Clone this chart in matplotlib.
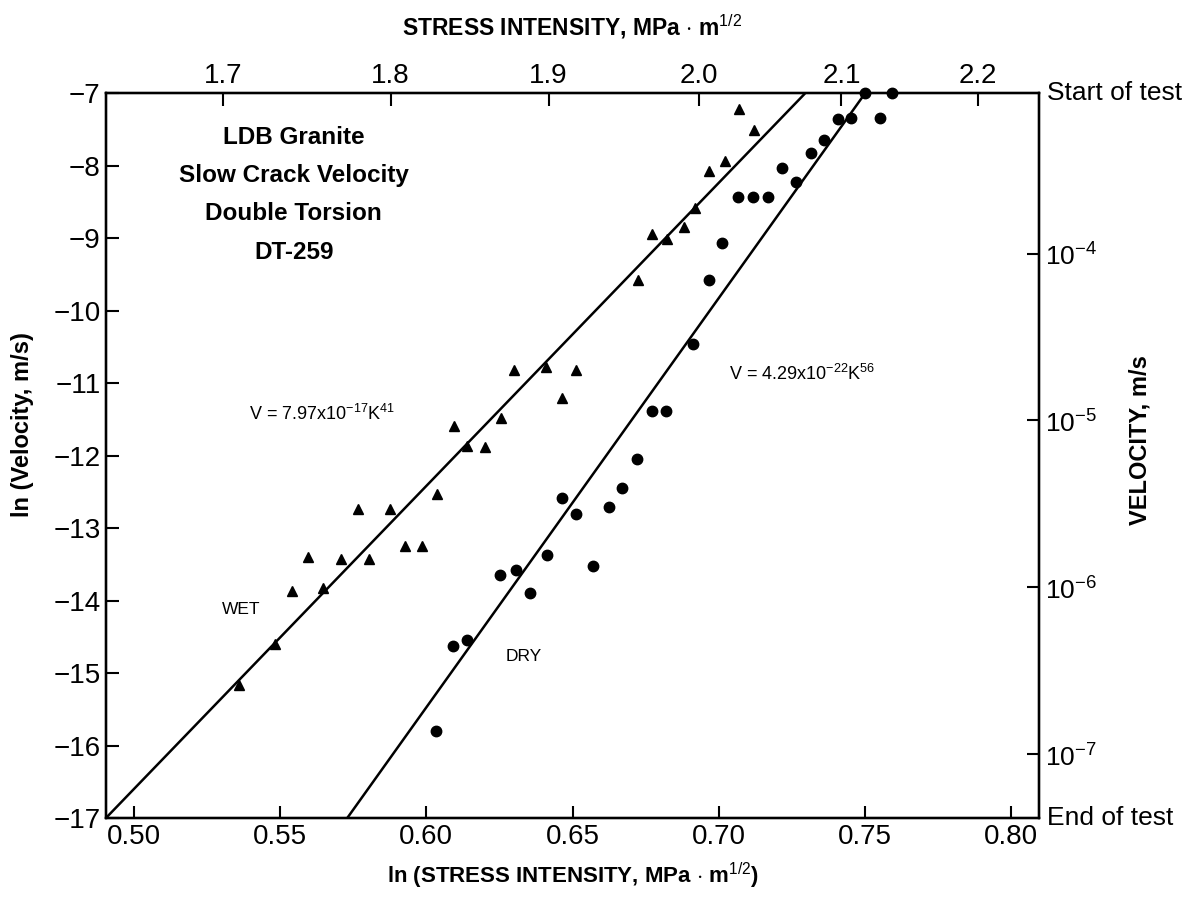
import numpy as np
import matplotlib
matplotlib.use("Agg")
import matplotlib.pyplot as plt

plt.rcParams['font.family'] = ['Liberation Sans', 'DejaVu Sans']
plt.rcParams['mathtext.fontset'] = 'custom'
plt.rcParams['mathtext.rm'] = 'Liberation Sans'
plt.rcParams['mathtext.bf'] = 'Liberation Sans:bold'

# ---- data (ln stress intensity, ln velocity) ----
wet_x = [0.5361, 0.5483, 0.5540, 0.5596, 0.5646, 0.5710, 0.5765, 0.5805, 0.5877,
         0.5927, 0.5985, 0.6037, 0.6094, 0.6141, 0.6202, 0.6255, 0.6301, 0.6409,
         0.6463, 0.6513, 0.6725, 0.6773, 0.6822, 0.6881, 0.6919, 0.6967, 0.7021,
         0.7069, 0.7121]
wet_y = [-15.16, -14.60, -13.87, -13.40, -13.82, -13.42, -12.74, -13.42, -12.74,
         -13.24, -13.24, -12.53, -11.59, -11.86, -11.88, -11.48, -10.82, -10.78,
         -11.21, -10.82, -9.58, -8.94, -9.01, -8.85, -8.58, -8.07, -7.93,
         -7.22, -7.51]

dry_x = [0.6035, 0.6090, 0.6141, 0.6253, 0.6306, 0.6355, 0.6414, 0.6463, 0.6513,
         0.6571, 0.6625, 0.6669, 0.6720, 0.6771, 0.6821, 0.6913, 0.6967, 0.7012,
         0.7067, 0.7118, 0.7169, 0.7217, 0.7263, 0.7314, 0.7359, 0.7407, 0.7451,
         0.7551, 0.7500, 0.7591]
dry_y = [-15.80, -14.63, -14.54, -13.64, -13.58, -13.90, -13.37, -12.58, -12.81,
         -13.52, -12.71, -12.44, -12.05, -11.38, -11.38, -10.46, -9.57, -9.06,
         -8.43, -8.43, -8.43, -8.03, -8.22, -7.82, -7.64, -7.36, -7.34,
         -7.34, -7.00, -7.00]

# fitted lines (end points)
wet_fit_x = [0.4905, 0.7295]
wet_fit_y = [-17.0, -7.0]
dry_fit_x = [0.5730, 0.7500]
dry_fit_y = [-17.0, -7.0]

x_ticks = [0.50, 0.55, 0.60, 0.65, 0.70, 0.75, 0.80]
y_ticks = [-7, -8, -9, -10, -11, -12, -13, -14, -15, -16, -17]
k_ticks = [1.7, 1.8, 1.9, 2.0, 2.1, 2.2]
v_ticks = [1e-4, 1e-5, 1e-6, 1e-7]
v_labels = [r'$10^{-4}$', r'$10^{-5}$', r'$10^{-6}$', r'$10^{-7}$']

fig = plt.figure(figsize=(12.04, 8.99), dpi=100)
ax = fig.add_axes([0.088, 0.0901, 0.775, 0.806])

ax.plot(wet_fit_x, wet_fit_y, color='black', lw=1.8, solid_capstyle='butt')
ax.plot(dry_fit_x, dry_fit_y, color='black', lw=1.8, solid_capstyle='butt')
ax.plot(wet_x, wet_y, linestyle='none', marker='^', ms=7.5, color='black', clip_on=False)
ax.plot(dry_x, dry_y, linestyle='none', marker='o', ms=7.5, color='black', clip_on=False)

ax.set_xlim(0.4905, 0.8095)
ax.set_ylim(-17, -7)
ax.set_xticks(x_ticks)
ax.set_xticklabels([f'{v:.2f}' for v in x_ticks])
ax.set_yticks(y_ticks)
ax.set_yticklabels([f'\u2212{abs(v)}' for v in y_ticks])
ax.tick_params(direction='in', length=9, width=1.5, labelsize=20, pad=4)

for s in ax.spines.values():
    s.set_linewidth(1.6)

# top axis: stress intensity
axt = ax.twiny()
axt.set_xlim(ax.get_xlim())
axt.set_xticks(np.log(k_ticks))
axt.set_xticklabels([f'{v:.1f}' for v in k_ticks])
axt.tick_params(direction='in', length=9, width=1.5, labelsize=20, pad=3)
axt.set_xlabel(r'STRESS INTENSITY, MPa $\cdot$ m$^{1/2}$', fontsize=16.5,
               fontweight='bold', labelpad=20)

# right axis: velocity
axr = ax.twinx()
axr.set_ylim(ax.get_ylim())
axr.set_yticks(np.log(v_ticks))
axr.set_yticklabels(v_labels)
axr.tick_params(direction='in', length=9, width=1.5, labelsize=19, pad=4)
for s in axr.spines.values():
    s.set_linewidth(1.6)
for s in axt.spines.values():
    s.set_linewidth(1.6)

fig.text(1140 / 1204, 1 - 440 / 899, 'VELOCITY, m/s', fontsize=17, fontweight='bold',
         rotation=90, ha='center', va='center')
fig.text(23 / 1204, 1 - 425 / 899, 'ln (Velocity, m/s)', fontsize=17, fontweight='bold',
         rotation=90, ha='center', va='center')

ax.text(1.008, 1.0, 'Start of test', transform=ax.transAxes, fontsize=19,
        ha='left', va='center')
ax.text(1.008, 0.0, 'End of test', transform=ax.transAxes, fontsize=19,
        ha='left', va='center')

ax.set_xlabel(r'ln (STRESS INTENSITY, MPa $\cdot$ m$^{1/2}$)', fontsize=16,
              fontweight='bold', labelpad=8)

# annotations
ax.text(0.5547, -8.40, 'LDB Granite\nSlow Crack Velocity\nDouble Torsion\nDT-259',
        fontsize=17.5, fontweight='bold', ha='center', va='center', linespacing=1.85)
ax.text(0.5645, -11.42, r'V = 7.97x10$^{-17}$K$^{41}$', fontsize=13,
        ha='center', va='center')
ax.text(0.7285, -10.87, r'V = 4.29x10$^{-22}$K$^{56}$', fontsize=13,
        ha='center', va='center')
ax.text(0.5367, -14.12, 'WET', fontsize=12.5, ha='center', va='center')
ax.text(0.6335, -14.77, 'DRY', fontsize=12.5, ha='center', va='center')

fig.savefig('out.png', dpi=100)
